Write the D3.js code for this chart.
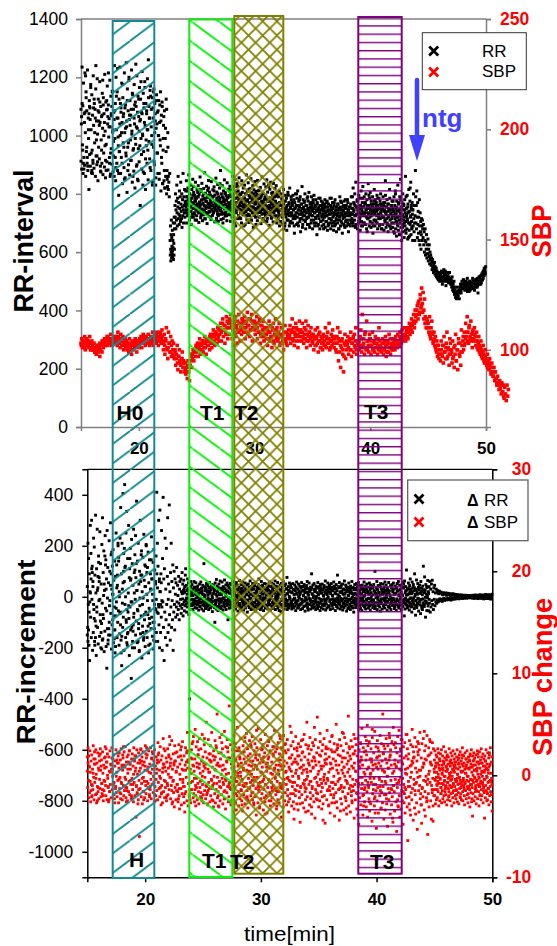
<!DOCTYPE html>
<html>
<head>
<meta charset="utf-8">
<script src="https://d3js.org/d3.v7.min.js"></script>
<style>
  html, body { margin: 0; padding: 0; background: #fff; }
  text { font-family: "Liberation Sans", Arial, sans-serif; }
</style>
</head>
<body>
<div id="chart"></div>
<script>
// values, each block is spread evenly over its time span [min]
const rrA = [912,1040,885,1235,968,1102,870,1180,925,1075,898,1215,1010,860,1150,945,1085,905,1225,880,1060,990,815,1120,935,1095,895,1175,1020,872,1140,950,1070,915,1205,1035,888,1110,975,1090,860,1160,930,1050,900,1195,1005,845,1125,960,1080,920,1185,1045,878,1100,985,1065,905,1145,1025,866,1130,940,1075,892,1210,1015,855,1115,970,1088,910,1170,1040,882,1105,995,1058,925,1190,1030,868,1135,955,1068,902,1152,1012,875];
const rrB = [930,1080,860,1240,990,1110,845,1200,1020,905,1150,880,1060,965,795,1125,945,1235,1000,870,1095,925,1180,1045,835,1130,975,1075,890,1215,1010,855,1105,940,1250,1030,805,1160,960,1085,900,1190,1055,865,1120,985,1070,915,1225,1015,840,1140,950,1090,878,1175,1040,820,1115,970,1100,895,1205,1025,850,1135,955,1065,910,1165,1050,760,1125,990,1080,885,1220,1005,830,1145,945,1095,870,1185,1035,815,1110,965,1075,905,1195,1020,848,1130,980,1060,920,1155];
const rrC = [1170,880,1090,1000,1130,840,1060,960,1160,900,1110,1050,830,1025,1140,940,1080,870,1000,1120,850,1045,985,1150,810,1070,905,1100,835,950,1035,845,1085,820,990,860,1125,800,880,825,960,815,840,790,870];
const rrD = [640,590,690,610,570,660,600,710,580,650,620,595,675,605,585,640,615,700,575,660,630,590,720,610,680];
const rrE = [700,760,720,800,680,745,775,710,830,735,690,785,755,860,715,770,730,695,810,750,725,790,705,840,765,740,715,800,685,755,780,725,870,745,700,790,760,735,815,720];
const rrF = [770,735,810,755,845,700,790,765,725,820,780,745,865,760,710,800,775,740,830,755,695,785,815,730,770,850,750,720,805,765,735,795,775,710,840,760,745,785,725,815,
  765,790,738,828,752,702,798,772,742,858,762,718,808,778,732,836,748,708,792,768,728,818,782,744,872,758,714,802,774,736,826,756,698,788,812,734,768,846,752,722,806,764,738,796,772,712,
  842,758,746,786,726,814,762,792,740,824,754,704,796,770,744,854,760,716,806,776,730,832,750,706,790,766,730,820,784,742,880,756,712,800,772,738,828,754,700,786,810,732,772,848,748,724,
  804,762,736,794,778,708,838,756,744,788,728,816,766,794,742,826,750,706,800,768];
const rrG = [775,730,815,750,860,705,795,760,720,825,785,740,850,765,690,805,770,745,835,755,715,790,810,725,780,855,748,718,800,768,735,798,772,700,845,758,742,782,728,820,
  762,788,735,830,750,695,800,775,740,865,760,712,810,780,728,838,746,702,794,770,725,818,786,744,852,756,710,804,776,738,828,752,685,790,814,730,772,842,750,720,808,766,734,798,778,708,
  846,754,748,784,722,812,768,796,736,822,758,698,792,774,746,858,764,714,802,770,732,834,744,706,788,762,726,824,782,740,848,758,716,806,774,734,830,750,692,786,816,728,776,840,752,716,
  802,764,738,792,780,704,836,756,742,790,724,818,770,792,744,828,748,700,798,766];
const rrH = [750,715,790,735,810,690,770,745,705,800,760,725,780,695,755,730,815,680,775,740,700,795,750,720,785,675,760,730,805,710,745,770,690,820,735,755,705,790,725,765,
  770,700,795,745,725,780,665,750,715,800,735,760,695,785,720,810,745,690,775,730,755,705,790,670,740,765,715,825,735,695,780,750,710,770,725,800,745,680,760,735,715,785,695,750,
  775,720,805,740,685,765,730,750,700,790,725,760,680,745,770,710,795,735,690,755,720,780,700,740,660,765,725,750,695,785,715,745,680,735,760,705,775,725,690,750,
  770,710,740,695,760,720,780,685,735,755,705,770,725,675,745,690,765,715,740,700,785,730,680,755,710,745,690,770,720,735,675,760,705,730,780,695,745,715,670,755,
  725,700,765,735,680,750,710,790,725,690,745,705,770,730,665,755,715,740,695,775,720,685,750,705,735,760,690,725,780,700,745,670,735,755,710,725,690,765,730,700];
const rrI = [750,705,790,730,820,690,770,745,710,800,760,725,840,695,755,730,780,680,775,740,700,795,750,715,785,675,760,730,810,705,745,770,690,825,735,755,700,790,725,765,
  770,695,800,745,720,780,670,750,715,835,735,760,690,785,720,805,745,685,775,730,755,700,790,665,740,765,710,815,735,690,780,750,705,770,725,795,745,680,760,730,715,785,690,750,
  775,715,800,740,680,765,725,750,695,790,720,760,675,745,770,705,845,735,685,755,715,780,695,740,670,765,720,750,690,785,710,745,680,730,760,700,775,725,685,750];
const rrJ = [740,700,790,725,665,760,715,810,680,750,730,655,775,705,740,695,830,720,675,765,710,745,660,790,725,700,850,685,755,715,640,770,730,695,800,670,745,710,760,650,
  720,780,690,735,860,705,665,750,725,680,795,710,645,765,735,700,815,675,740,655,775,695,720,840,660,750,705,685,770,730,640,745,690,800,715,670,760,700,640,725];
const rrK = [880,790,700,760,680,810,720,650,770,695,740,665,720,640,780,690,625,735,670,705,610,660,715,640,690];
const rrL = [710,680,650,695,625,670,600,640,680,590,635,610,660,580,625,595,645,570,610,585,625,560,600,575,590,555,580,565,540,575,550,565,530,555,540,565,525,550,535,520,545,515,535,525,510,530,505,525,515,510];
const rrM = [520,510,525,505,535,515,500,530,510,540,520,505,535,525,510,530,515,500,525,505,515,495,510,500,490,505,480,495,470,490,465,480,455,470,445,460,440,455,445,465,
  450,470,460,480,465,490,470,485,500,475,490,505,480,495,470,490,480,500,475,490,465,485,475,495,480,500,470,490,480,495,485,475,500,480,495,470,490,505,480,500,
  490,510,485,500,495,515,490,510,500,520,495,525,505,530,510,535,520,540,530,550];
// second pass of readings where the cloud is dense
const rrEarly2 = [1090,1065,1110,950,905,885,1045,1080,1205,1130,960,925,895,1020,1075,1100,1055,1165,940,880,870,905,1095,1125,1010,1060,1240,985,930,910,1085,1050,1035,1115,895,875,950,1070,1190,1105,
  1000,1045,965,915,880,1120,1090,1065,1215,1030,905,860,940,1075,1100,1150,1020,980,1055,1085,925,890,1135,1060,1230,995,870,945,1040,1110,1080,1010,905,1175,1065,960,850,1095,1025,930,
  1050,1120,880,975,1200,1070,1035,915,1090,1005,1145,860,955,1060,1105,990,1245,1030,900,1080,845,1125,1015,965,1055,1185,935,1075,1000,875,1110,1045,1165,920,985,1085,1020,950,1260,1100,
  1060,890,1135,1030,970,830,1095,1150,910,1010,1075,855,1120,1040,940,1085,1000,870,1105,965,1050,925,1115,835,990,1065,880,820,1025,945,1090,850,1010,860];
const rrBand2a = [760,775,745,790,810,735,725,770,800,755,780,740,720,765,795,825,750,730,785,775,745,710,760,805,790,735,770,755,815,725,745,780,765,735,800,760,715,785,750,775,
  730,795,765,820,740,755,780,720,770,745,790,760,735,810,775,750,705,765,785,740,800,725,755,775,835,745,770,730,790,760,715,780,750,800,735,765,725,785,755,745,
  770,810,730,760,790,740,720,775,755,800,765,700,745,785,735,770,825,750,725,795,760,780,715,745,770,805,735,755,690,785,765,740,800,725,775,750,730,815,760,790,
  745,710,770,735,780,755,800,725,765,745,695,790,775,735,810,755,720,760,785,740,770,730,800,750,715,780,765,735,795,745,705,775,755,825,730,760,785,740,770,720,
  750,805,765,735,790,745,775,725,760,800];
const rrBand2b = [755,740,725,770,760,705,745,785,720,735,765,750,690,775,730,755,710,740,795,765,725,700,750,780,735,760,715,745,690,770,725,755,800,735,700,760,745,780,715,730,
  765,750,685,725,755,740,775,705,735,760,720,790,745,695,730,755,770,710,740,725,780,750,700,735,760,715,745,770,690,725,755,735,785,705,745,760,720,730,680,750,
  765,725,705,740,775,755,695,730,745,715,760,785,735,700,750,725,770,690,740,755,710,730,765,745,680,720,755,775,735,700,745,725,760,690,730,780,750,710,735,770,
  745,695,725,755,735,790,715,750,700,740,765,725,685,755,730,775,745,705,735,760,720,750,690,740,785,725,755,700,770,735,745,680,760,715,730,795,750,705,740,765,
  725,755,690,745,775,730,710,760,740,700,785,750,725,695,765,735,755,680,745,720,770,740,710,795,730,755,700,765,725,745,815,690,735,760,715,750,775,670,740,730,
  800,705,755,720,690,770,745,660,735,780,710,750,685,725,765,700,745,675,790,730,715,755,650,740,700,820,725,760,680,745];
const rrLate2 = [500,530,515,490,510,525,500,485,520,505,495,530,510,490,515,480,500,470,455,480,450,465,440,470,460,490,475,505,485,470,495,510,480,465,500,485,475,510,495,470,
  490,505,480,460,500,515,490,520,505,535,545,525];
const rrBlocks = [[15,17.8,rrA],[17.8,21,rrB],[21,22.7,rrC],[22.7,23.1,rrD],[23.1,24,rrE],[24,28,rrF],[28,32,rrG],[32,38.4,rrH],[38.4,42,rrI],[42,43.9,rrJ],[43.9,44.5,rrK],[44.5,46,rrL],[46,50,rrM],
  [15,22.6,rrEarly2],[24,32,rrBand2a],[32,43.7,rrBand2b],[46,50,rrLate2]];

const sbpValues = [
  103,105,101,104,102,106,100,103,105,102,104,101,106,103,100,104,
  102,100,103,99,101,98,102,100,99,101,97,100,102,99,103,101,
  104,102,105,103,106,102,104,105,103,107,102,105,104,106,103,105,
  104,106,102,108,103,105,101,107,104,102,106,100,103,105,101,104,
  100,103,99,105,101,102,98,104,100,103,101,105,102,99,104,101,
  102,105,103,106,101,104,107,103,105,102,106,104,103,107,105,102,
  104,106,103,108,102,105,107,104,103,108,106,102,105,104,107,103,
  109,104,100,107,98,105,110,101,96,108,103,99,106,97,104,100,
  103,96,100,93,98,102,91,97,100,94,90,96,99,92,95,90,
  94,89,92,87,95,90,86,93,98,92,96,100,95,99,97,102,
  99,103,97,101,105,98,102,100,104,99,103,106,101,98,104,102,
  102,105,100,107,103,101,106,109,104,102,108,105,103,110,106,104,
  107,112,104,109,114,106,111,103,108,115,110,105,112,107,113,116,
  110,105,113,102,108,115,106,111,103,109,116,112,104,110,107,114,
  112,108,115,105,110,113,117,107,111,106,114,109,116,104,112,110,
  113,107,110,115,105,112,108,114,103,111,106,109,113,104,110,107,
  105,110,102,108,113,104,111,106,101,109,112,103,107,114,105,110,
  104,108,112,102,106,110,103,107,100,105,111,104,108,102,106,109,
  106,111,103,108,114,105,110,102,107,112,104,109,101,106,113,108,
  109,104,112,106,103,110,105,113,101,107,111,104,108,102,110,106,
  103,107,100,105,109,102,106,110,99,104,108,101,106,103,100,107,
  102,106,110,101,105,108,103,112,100,104,107,102,109,105,101,106,
  103,99,106,110,95,104,108,92,101,105,98,90,103,107,96,100,
  102,106,98,104,100,108,97,103,105,99,107,101,110,98,104,102,
  103,100,106,109,99,116,102,105,98,108,101,113,100,104,99,107,
  105,98,102,108,100,104,99,106,101,103,98,105,110,100,102,99,
  101,105,98,103,100,106,97,102,104,99,107,101,98,103,100,105,
  102,104,100,106,103,101,107,104,102,108,105,103,109,104,106,110,
  106,104,108,110,105,109,112,107,111,114,108,112,116,110,118,113,
  116,120,114,122,117,125,119,128,121,126,118,123,115,112,114,110,
  112,108,115,106,110,113,107,104,108,102,106,100,104,97,102,96,
  100,95,104,98,102,94,106,99,96,103,108,97,101,93,105,98,
  100,94,104,97,92,102,107,95,100,91,105,98,103,93,109,99,
  104,100,108,103,112,106,115,108,103,111,105,113,107,101,109,104,
  110,106,102,108,104,100,106,102,98,104,100,96,102,98,94,100,
  96,93,98,94,91,96,92,89,94,90,88,92,86,90,87,84,
  88,85,82,86,83,80,85,81,84,78,83,80,77,84,79,82];
// second pass, roughly ten readings a minute along the middle of the band
const sbpValues2 = [
  102,104,103,101,105,104,102,103,100,101,
  100,101,99,100,102,101,103,102,104,103,
  105,103,104,106,105,103,104,105,104,106,
  105,104,106,103,105,102,104,103,102,101,
  102,101,103,100,102,103,102,104,103,104,
  104,103,105,104,106,105,104,105,103,105,
  106,105,104,106,105,107,104,106,108,105,
  106,103,102,104,100,101,103,99,102,98,
  97,99,96,94,97,95,93,96,94,92,
  91,90,93,92,95,97,98,99,100,101,
  101,102,100,103,102,104,101,103,105,104,
  104,106,105,103,107,106,108,107,105,109,
  110,108,112,109,111,107,113,110,114,112,
  111,109,112,107,110,113,108,112,109,114,
  113,110,112,108,111,114,109,113,110,112,
  109,112,110,108,113,107,111,109,106,110,
  107,109,105,108,106,110,104,107,109,106,
  105,107,103,106,104,108,105,103,107,105,
  107,105,109,104,108,106,110,107,104,109,
  106,108,105,107,109,104,106,108,105,107,
  104,106,102,105,103,107,104,101,105,103,
  104,102,106,103,105,101,104,106,103,105,
  100,103,105,99,102,104,100,97,102,104,
  103,101,105,100,103,106,102,104,100,103,
  104,102,105,101,103,107,100,104,102,105,
  102,104,100,103,101,105,102,100,104,101,
  103,100,104,102,99,103,101,105,102,100,
  103,105,102,104,103,106,104,105,107,105,
  107,109,106,108,110,109,111,113,112,115,
  118,121,116,123,120,117,114,112,110,113,
  110,107,105,108,103,105,101,99,102,98,
  98,100,97,102,99,101,96,100,98,103,
  99,96,101,98,95,100,103,97,99,102,
  106,102,105,108,104,110,106,104,108,105,
  107,104,101,103,99,101,97,99,95,97,
  94,92,95,93,90,92,88,90,87,85,
  84,86,82,84,81,79];
const sbpStep1 = 1 / 16, sbpStep2 = 1 / 10;

const dRrEarly = [40,-120,210,-30,150,-190,90,-250,20,280,-80,170,-160,300,-10,120,-210,60,-140,230,-50,195,-175,85,-95,320,15,-230,110,-60,265,-120,35,-185,160,-15,75,-155,255,-70,
  130,-200,50,-105,205,-25,310,-165,95,-85,180,-215,25,-135,240,-45,145,-195,70,-280,260,-5,115,-170,55,-125,220,-35,100,-150,290,-65,165,-205,30,-110,10,-90,185,-180,
  65,-130,-40,140,-220,80,-75,250,-20,125,-160,45,-100,200,-55,155,-190,0,-145,230,
  -60,350,-170,90,-270,210,30,-120,405,-80,170,-210,60,440,-30,120,-160,250,-100,335,-50,-190,150,-140,15,280,-85,-230,110,-40,190,-130,70,-320,225,-20,130,-175,45,-110,
  265,-65,95,-200,165,-10,-150,75,-95,375,25,-180,140,-55,210,-125,50,-215,100,-35,300,-145,85,-75,180,-240,20,-115,155,-5,-170,245,65,-90,125,-195,40,-60,205,-135,
  10,-160,115,-70,175,-220,55,-45,145,-105,-185,90,30,-125,235,-80,70,-155,-15,135,-205,185,-100,-30,105,-175,60,-50,160,-140];
const dRrMid = [410,-60,210,-175,120,-30,300,-110,60,-200,340,20,-140,90,-80,260,-40,-210,150,-20,390,-120,70,-250,110,-60,230,-160,30,-90,190,-30,-190,80,310,-140,-10,50,-110,360,
  -70,20,-170,95,-40,210,-120,60,-15,-90,125,-210,35,-60,100,-30,-130,70,10,-80,55,-40,115,-20,-70,45,5,-50,80,-25,-90,30,60,-35,-10,70,-65,20,-45,95,
  -30,50,-75,15,65,-20,-55,40,-35,85,110,-15,45,-60,25,-40,70,-25,-5,55,-70,30,-400,10,-50,60,-30,40];
const dRrBand = [20,-35,48,-10,5,-50,30,-22,60,-15,38,-42,12,-28,55,-5,25,-45,35,-18,42,-30,8,-52,28,-12,50,-38,15,-25,58,-8,32,-48,22,-20,45,-33,10,-55,
  130,-20,40,-36,6,-46,34,-14,52,-26,18,-40,44,-6,24,-50,36,-16,56,-32,14,-44,28,-10,48,-24,4,-58,38,-18,46,-34,16,-42,26,-100,54,-28,10,-48,
  68,-12,42,-38,20,-54,30,-8,50,-30,12,-44,62,-22,34,-46,8,-16,58,-36,24,-52,40,-4,18,-28,66,-40,32,-14,46,-50,2,-26,54,-34,22,-90,44,-10,
  35,-45,15,-20,52,-32,26,-6,48,-42,10,-24,60,-38,30,-54,18,-12,40,-30,50,-48,6,-22,56,-36,28,-16,44,-56,14,-8,38,-34,64,-26,20,-46,32,-4,
  48,-40,12,-18,58,-30,24,-52,42,-10,16,-36,54,-44,34,-20,8,-28,46,-60,26,-14,50,-32,18,-42,36,-6,62,-24,10,-50,40,-16,28,-38,52,-34,4,-48,
  30,-22,44,-40,14,-56,56,-12,22,-30,38,-46,6,-18,48,-36,70,-26,32,-8,16,-50,42,-28,60,-42,24,-14,46,-34,10,-54,36,-20,52,-4,18,-44,28,-32,
  50,-10,-38,34,12,-48,44,-24,26,-16,58,-30,8,-52,40,-6,20,-36,54,-46,30,-22,14,-40,48,-12,36,-28,62,-50,2,-18,42,-34,24,-8,56,-44,16,-26,
  38,-54,10,-20,46,-32,28,-58,52,-14,18,-42,34,-4,60,-30,22,-48,44,-10,6,-36,50,-24,32,-16,76,-50,12,-38,40,-28,26,-44,54,-8,20,-34,48,-18,
  -22,35,-48,16,-30,52,-12,28,-42,8,-6,46,-36,24,-54,38,-18,58,-28,10,-44,30,-14,50,-40,20,-4,42,-32,14,-50,34,-26,56,-10,22,-46,40,-20,6,
  -38,48,-16,26,-56,36,-8,18,-34,44,-24,60,-42,12,-52,32,-6,54,-30,20,-14,38,-48,28,-22,90,-36,10,-44,46,-18,4,-28,52,-40,30,-12,24,-50,42,
  -4,34,-32,16,-46,56,-20,8,-38,40,-26,22,-54,48,-10,36,-42,14,-16,50,-30,28,-48,6,-8,44,-34,18,-24,62,-52,26,-14,38,-44,10,-6,54,-36,32,
  20,-40,46,-18,30,-50,12,-28,52,-10,38,-34,4,-46,24,-22,58,-14,42,-30,16,-54,34,-8,48,-38,26,-20,85,-44,8,-26,40,-12,56,-32,18,-48,36,-6,
  44,-16,22,-36,50,-52,10,-24,30,-42,62,-4,14,-34,46,-28,38,-56,20,-18,28,-46,6,-10,54,-40,32,-30,16,-50,42,-8,24,-22,60,-38,12,-44,36,-14,
  -60,34,-20,48,-6,14,-42,28,-30,52,-12,40,-36,8,-24,56,-50,18,-16,44,-4,26,-46,36,-28,10,-54,46,-10,32,-34,22,-18,58,-40,6,-26,42,-48,16,
  30,-14,50,-32,20,-8,38,-44,12,-22,54,-36,26,-52,46,-6,16,-30,40,-12,34,-42,8,-18,48,-28,24,-46,100,-38,14,-4,36,-24,60,-50,28,-10,44,-34,
  18,-20,42,-40,6,-56,52,-16,32,-26,22,-48,10,-8,50,-36,30,-14,38,-44,58,-22,12,-30,46,-4,26,-52,34,-18,16,-38,56,-10,24,-42,8,-28,44,-50,
  -18,36,-6,48,-34,20,-26,54,-12,30,-46,10,-40,42,-20,14,-54,38,-8,52,-30,24,-16,60,-44,4,-36,46,-24,28,-10,18,-50,40,-32,8,-14,56,-38,34,
  50,-22,-75,62,-48,16,-6,40,-30,105,-18,26,-44,8,-12,54,-36,32,-52,44,-8,70,-28,20,-40,12,-60,58,-16,36,-24,48,-4,24,-46,90,-34,10,-72,30,
  -14,66,-42,18,-26,52,-6,38,-56,28,-20,46,-32,14,-66,60,-10,34,-44,22,-50,42,-8,120,-30,16,-38,78,-16,26,-80,48,-24,10,-54,36,-4,64,-36,20];
const dRrFade = [-55,40,-25,60,-60,30,-40,50,-15,65,-30,20,-50,35,-10,45,-35,15,-20,30,-25,18,-12,24,-20,12,-16,22,-8,15,-14,18,-10,12,-18,8,-12,16,-6,10,
  -14,12,-8,15,-10,6,-12,14,-5,9,-11,13,-7,10,-9,4,-13,11,-6,8,-10,12,-4,7,-9,10,-6,5,-8,9,-3,6,-7,8,-5,4,-8,7,-3,6,
  -6,5,-4,7,-5,3,-6,6,-2,5,-5,4,-3,6,-4,2,-5,5,-1,4,-4,3,-2,5,-3,1,-4,4,-2,3,-5,6,-3,5,-6,4,-2,7,-5,3,
  -4,6,-3,5,-7,4,-2,6,-5,8,-3,4,-6,5,-1,7,-4,3,-8,6,-2,5,-7,9,-3,4,-5,7,-6,2,-4,8,-7,5,-3,6,-9,4,-2,10];
// second pass of readings for the early cloud and the solid core of the band
const dRrEarly2 = [-150,-175,-130,-60,-20,15,70,110,95,40,-30,-85,-190,-160,-115,-40,25,80,135,60,-10,-95,-140,-205,-170,-70,5,50,160,125,30,-55,-125,-185,-150,-100,-15,45,90,175,
  120,10,-75,-165,-130,-195,-45,35,85,210,140,20,-65,-110,-220,-155,-25,55,100,190,115,0,-90,-180,-145,-60,-35,75,150,65,-20,-120,-200,-135,-80,15,105,240,130,25,
  -50,-175,-105,-210,-5,60,165,85,-30,-140,-160,-70,40,120,200,95,-15,-115,-190,-85,-55,30,145,70,10,-100,-170,-125,-45,50,-10,90,35,-65,-40,70,20,-30,55,-15];
const dRrCore = [12,-8,25,30,18,-15,-28,-5,10,32,22,-20,-35,-12,4,28,15,-25,-30,-10,20,35,8,-18,-32,-2,14,26,-22,-38,-6,18,34,10,-16,-28,0,24,30,-12,
  -26,-34,6,16,38,20,-10,-24,-36,-4,12,30,26,-14,-30,-20,2,22,36,8,-18,-40,-8,15,28,32,-6,-22,-33,-12,10,24,18,-16,-28,-4,35,14,-10,-36,
  -24,5,20,40,16,-14,-32,-18,-2,26,30,6,-26,-38,-10,12,22,34,-8,-20,-30,0,18,28,10,-12,-34,-24,4,38,24,-6,-16,-28,8,32,14,-22,-36,-2,
  16,26,36,-10,-18,-30,2,20,-26,12,-4,34,28,-14,-38,-8,6,24,30,-20,-32,-12,10,18,40,4,-24,-16,-34,22,14,-6,-28,32,8,-2,-20,-36,26,16,
  -10,-30,38,6,20,-18,-26,-8,30,12,-14,-34,24,2,-4,36,18,-22,-38,-12,28,10,-6,-24,34,14,-16,-32,0,22,8,-28,40,-10,-20,26,4,-36,16,-2,
  32,-12,-26,18,6,-30,24,-8,-18,36,12,-34,-4,28,20,-14,-22,2,38,-38,10,-6,30,-24,16,-16,26,-32,4,34,-10,-20,14,-28,8,22,-2,-36,40,-12,
  18,-26,28,6,-8,-30,32,-18,12,-34,24,-4,-14,36,2,-22,20,-38,16,-10,30,-28,10,-16,26,-6,-32,38,-20,4,22,-12,34,-36,14,-2,-24,8,28,-30,
  -18,32,6,-8,24,-26,16,-34,12,-14,36,-4,-22,20,2,-38,30,-10,26,-28,18,-6,10,-32,34,-16,4,-20,38,-12,22,-36,14,-24,8,28,-2,-30,16,-18,
  40,-8,-26,12,30,-34,20,-4,-14,24,6,-22,32,-38,18,-10,2,-28,36,-16,26,-6,10,-32,14,-20,34,-12,22,-36,8,-24,28,-2,16,-30,4,-18,38,-10,
  -26,24,6,-34,32,-14,12,-22,20,-4,30,-38,18,-8,-28,36,2,-16,26,-32,10,-6,34,-20,14,-12,22,-36,8,-24,28,-30,16,-2,-18,40,4,-26,12,-10];
const dRrBlocks = [[15,21,dRrEarly],[21,24,dRrMid],[24,44.5,dRrBand],[44.5,50,dRrFade],[15,21.5,dRrEarly2],[23.2,44.6,dRrCore]];

// beat to beat SBP change, in tenths of a mmHg
const dSbpEarly = [18,-12,27,-5,-22,9,-17,24,3,-26,14,-9,20,-20,6,-14,29,-2,-24,11,-7,16,-19,25,1,-27,12,-11,22,-16,7,-23,19,-4,-13,26,5,-21,15,-8,
  -18,23,2,-25,10,-15,17,-6,28,-10,-20,8,13,-24,21,-3,-12,-26,18,4,-16,24,-9,11,-22,6,27,-14,-1,16,-19,20,-7,-23,9,14,-11,25,-17,3,
  -21,12,-5,19,-27,7,22,-13,-2,15,-18,26,-8,10,-24,5,17,-10,-20,23,-15,8,28,-4,-22,13,-12,18,-25,2,20,-16,-6,24,-19,11,6,-9,-23,16,
  -3,21,-14,9,-26,27,-7,14,-20,4,19,-41,-11,25,-17,1,12,-24,22,-5,-60,15,-13,7,26,-21,-8,18,-28,10,23,-2,-16,13,-22,5,29,-10,-18,17,
  -6,20,-25,8,-12,24,3,-19,11,-14,27,-4,-23,16,-9,6,21,-17,-1,14,-26,25,-11,9,-20,18,2,-15,12,-24,32,-7,22,-13,5,-21,28,-3,15,-18,
  -10,19,-27,7,36,-16,11,-5,-22,24,-12,4,17,-25,13,-8,26,-19,1,20,-14,38,-2,9,-23,16,-10,34,-28,6,-6,21,-17,12,-31,29,-12,14,-24,3,
  -15,23,-9,8,-26,18,30,-20,-33,11,-4,25,-13,-29,15,-18,33,-7,5,-21,19,-11,-36,10,27,-16,-2,22,-25,42,7,-30,13,-8,-19,24,-14,6,-27,17];
const dSbpMid = [25,-14,31,-6,10,-22,38,-18,4,-26,16,45,-10,-20,28,-3,12,-24,33,-8,20,-16,-28,7,36,-12,2,-21,26,-5,14,-25,40,-9,18,-19,-27,9,30,-15,
  -2,23,-23,11,52,-11,17,-17,-29,6,35,-7,21,-13,3,-26,29,-20,13,-4,42,-24,8,-10,19,-31,24,-1,15,-18,34,-27,5,-14,27,-8,60,-22,12,-16,
  -30,22,9,-6,37,-25,16,-12,1,-19,32,-3,26,-28,10,-9,19,-23,43,-15,6,-33,28,-5,14,-17,35,-11,23,-26,2,-21,68,-7,17,-13,30,-29,11,-2,
  -24,25,-10,8,-36,20,39,-18,4,-12,31,-27,15,-6,24,-20,47,-1,9,-16,-30,27,-9,18,-23,3,36,-14,12,-25,22,-4,-35,29,7,-19,16,-11,33,-28,
  -8,13,-22,41,5,-15,26,-32,19,-3,10,-26,34,-12,21,-7,-20,28,1,-17,38,-24,14,-10,6,-29,24,-5,31,-21,17,-13,-39,9,27,-2,15,-27,46,-8,
  -16,20,-31,12,-11,35,-23,3,25,-18,8,-6,30,-34,18,-14,-1,22,-26,40,-9,11,-20,4,-37,29,-12,16,-4,33,-25,7,-17,24,-30,2,37,-7,13,-22,
  -15,28,-10,19,-28,5,44,-13,-3,23,-19,10,-33,26,-6,15,-24,32,-16,1,-27,21,-8,36,-12,9,-41,27,-21,6,18,-11,-31,39,-4,14,-25,30,-17,3,
  22,-9,-29,12,35,-14,-2,25,-36,8,17,-23,48,-6,-18,29,4,-30,20,-11,-1,33,-26,13,-43,26,-7,16,-20,38,-15,5,-28,24,-10,11,-34,31,-3,19,
  -22,7,-46,28,-12,15,34,-19,2,-27,23,-8,10,-32,40,-5,18,-16,-24,30,-13,6,52,-21,-1,26,-35,12,-9,21,-29,37,-17,4,-6,25,-38,14,-11,32,
  -20,8,29,-26,17,-3,-42,35,-14,10,-23,22,-7,57,-18,1,27,-31,13,-10,-25,41,-4,19,-16,6,-33,24,-12,30,-28,9,-2,36,-20,15,-47,21,-8,28,
  11,-24,44,-15,-5,26,-30,3,18,-11,33,-37,12,-19,25,-7,-27,39,7,-13,16,-22,-1,31,-40,23,-9,14,-17,50,-26,5,-32,27,-6,20,-14,10,-44,35,
  -3,19,-23,29,-10,-28,13,42,-16,2,24,-34,8,-12,37,-21,17,-5,-25,31,-38,11,-8,22,-18,58,-30,6,-13,26,-1,-36,16,34,-20,9,-27,28,-4,21,
  -15,40,-42,12,-9,24,-24,4,30,-17,-33,19,-6,36,-11,14,-48,25,-22,7,-2,32,-29,18,-13,46,-8,10,-39,27,-19,3,23,-26,-12,38,-5,15,-31,20,
  -16,49,-41,29,-10,8,-23,33,-35,16,1,-28,26,-7,13,-45,37,-18,5,-14,22,-3,-30,43,-21,11,-9,28,-52,17,-25,34,-12,6,-37,24,-2,19,-20,39,
  -15,9,-32,31,-6,14,-27,60,-11,21,-43,4,-19,26,-34,16,-8,36,-23,12,-1,-50,29,-13,7,-24,41,-17,18,-38,25,-5,10,-29,33,-21,2,-46,47,-10,
  30,-16,-35,15,-4,27,-26,8,-55,22,-12,38,-30,13,-7,44,-20,-41,19,-2,24,-33,5,-15,35,-25,11,-48,28,-9,17,-18,32,-37,6,-14,40,-22,1,-31,
  26,-64,16,-6,21,-28,34,-11,9,-39,30,-17,3,-24,45,-13,12,-44,23,-4,18,-32,37,-19,7,-8,28,-27,14,-53,33,-2,20,-15,-36,25,-10,42,-23,5,
  -29,17,-47,31,-12,8,-21,36,-5,11,-34,24,-16,-40,29,-1,15,-26,39,-9,-58,19,-18,27,-31,4,35,-7,13,-25,22,-43,10,-14,32,-3,-30,26,-20,6];
const dSbpLate = [15,-20,24,-5,-28,9,-14,20,-24,3,18,-10,-22,12,26,-16,-2,22,-30,7,-8,16,-25,14,-4,21,-18,6,-12,25,-27,10,1,-15,19,-23,5,-9,28,-20,
  13,-6,-26,17,-1,-13,23,-19,8,-11,15,-29,4,20,-7,-24,11,-3,18,-21,-16,26,2,-10,14,-25,9,-5,22,-18,-12,12,-30,19,-1,6,-22,24,-8,-15,
  10,-27,16,3,-11,21,-20,-4,13,-23,7,-14,18,-6,25,-26,1,-9,15,-17,11,-28,-2,20,-13,8,-21,23,-5,-18,4,14,-24,-10,17,-7,27,-16,-25,9,
  -3,19,-12,12,-20,-29,6,22,-8,-15,16,2,-23,10,-5,24,-19,-11,13,-27,-1,18,-6,7,-22,15,-14,-31,21,-9,-4,11,-17,25,-26,3,-12,8,-40,19,
  -18,14,-7,22,-25,5,-2,17,-13,-21,10,-10,20,-28,6,-15,13,-5,24,-23,1,-9,18,-16,11,-30,-3,23,-11,7,-19,15,-6,-24,26,-14,4,-20,12,-1,
  -8,21,-27,9,-12,16,-17,3,-42,19,-4,-22,14,-10,25,-15,7,-25,11,-2,-18,22,-7,5,-13,17,-29,-6,20,-20,10,-11,27,-16,2,-26,13,-3,18,-35];
// second pass of readings, runs instead of strict high-low swings
const dSbp2 = [4,12,19,8,-6,-15,-21,-10,2,16,23,11,-3,-18,-25,-12,5,14,21,9,-8,-14,-20,-5,7,18,26,13,0,-11,-24,-16,3,10,17,6,-9,-19,-27,-13,
  -1,15,22,12,-4,-17,-23,-7,8,20,28,10,-2,-12,-26,-15,6,13,24,11,-5,-20,-22,-9,1,16,19,7,-10,-18,-28,-14,4,12,25,14,-3,-16,-24,-6,
  9,21,27,5,-8,-13,-21,-11,2,17,23,10,-7,-19,-25,-4,6,15,20,13,-1,-12,-29,-17,3,11,26,8,-6,-22,-20,-10,7,18,30,12,-2,-15,-26,-5,
  10,14,22,4,-9,-16,-23,-13,1,19,28,6,-4,-11,-27,-18,5,13,24,15,-8,-21,-24,-7,2,16,33,9,-3,-14,-30,-12,8,20,25,11,-6,-17,-22,-1,
  4,12,36,7,-10,-19,-28,-15,3,15,21,14,-5,-13,-25,-8,6,18,29,10,-2,-20,-31,-11,9,22,40,5,-7,-16,-23,-4,1,13,27,17,-9,-12,-26,-14,
  7,19,32,8,-3,-18,-34,-6,2,11,24,16,-1,-15,-29,-10,5,23,37,12,-8,-21,-24,-13,4,14,30,9,-5,-17,-27,-2,10,20,44,6,-11,-14,-32,-7,
  3,16,26,13,-4,-22,-38,-9,8,12,34,18,-6,-19,-25,-12,1,21,28,7,-2,-15,-30,-16,5,10,39,15,-10,-13,-41,-8,9,24,31,4,-3,-20,-26,-5,
  6,17,42,11,-7,-18,-33,-14,2,13,27,19,-1,-16,-28,-11,8,22,35,5,-9,-12,-36,-4,3,15,29,10,-6,-23,-31,-13,7,18,47,14,-2,-17,-24,-10,
  4,20,33,9,-8,-21,-44,-5,1,12,26,16,-3,-14,-29,-15,6,11,38,23,-7,-19,-27,-9,10,25,30,2,-4,-13,-35,-12,5,17,41,8,-1,-22,-32,-6,
  3,14,28,19,-10,-16,-25,-11,7,21,36,4,-5,-18,-39,-8,9,13,31,15,-2,-20,-30,-14,1,24,34,6,-7,-12,-26,-3,2,16,45,10,-9,-23,-37,-15,
  8,18,27,12,-4,-11,-33,-17,5,22,29,3,-6,-19,-28,-1,7,15,37,20,-13,-14,-42,-10,4,11,32,9,-8,-24,-31,-5,6,26,35,13,-3,-16,-27,-12,
  2,19,40,7,-11,-21,-34,-2,10,14,28,17,-9,-15,-38,-7,3,23,31,5,-1,-18,-29,-13,8,12,43,16,-6,-22,-25,-4,1,20,33,11,-10,-17,-45,-14];
const dSbpLate2 = [3,-4,8,12,-2,-9,-14,-6,1,10,16,5,-3,-12,-18,-8,2,7,14,11,-1,-5,-16,-10,4,9,18,6,-7,-13,-20,-2,0,12,15,3,-4,-11,-17,-9,
  5,8,13,10,-6,-15,-19,-3,1,6,17,12,-2,-8,-22,-12,3,11,20,4,-5,-10,-14,-7,2,9,16,7,-1,-13,-18,-11,6,14,19,8,-4,-9,-23,-5,0,10,
  15,5,-3,-16,-12,-6,4,7,21,13,-2,-11,-20,-8,1,12,18,3,-7,-10,-15,-4,5,9,14,6,-1,-17,-24,-13,2,8,22,11,-5,-6,-19,-9];
const dSbpBlocks = [[15,24,dSbpEarly],[24,45,dSbpMid],[45,50,dSbpLate],[15,45,dSbp2],[45,50,dSbpLate2]];

const topLeftTicks = [0,200,400,600,800,1000,1200,1400];
const topRightTicks = [100,150,200,250];
const botLeftTicks = [-1000,-800,-600,-400,-200,0,200,400];
const botRightTicks = [-10,0,10,20,30];
const timeTicks = [20,30,40,50];

// labels of the time windows, upper and lower panel
const windowNames = ["H0","T1","T2","T3"];
const windowNamesLower = ["H","T1","T2","T3"];

const width = 557, height = 946;
const svg = d3.select("#chart").append("svg").attr("width", width).attr("height", height);
const defs = svg.append("defs");

const xTop = d3.scaleLinear().domain([15,50]).range([81,486]);
const xBot = d3.scaleLinear().domain([15,50]).range([87.3,492.3]);
const yRR = d3.scaleLinear().domain([0,1400]).range([427,19]);
const ySBP = d3.scaleLinear().domain([65,250]).range([427,19]);
const yDRR = d3.scaleLinear().domain([-1100,500]).range([877.3,469.3]);
const yDSBP = d3.scaleLinear().domain([-10,30]).range([877.3,469.3]);

// spread a block list into [time, value] pairs
function toPoints(blocks) {
  let pts = [];
  blocks.forEach(b => {
    const t = d3.scaleLinear().domain([0, b[2].length]).range([b[0], b[1]]);
    b[2].forEach((v, i) => pts.push([t(i), v]));
  });
  return pts;
}

function drawPoints(pts, x, y, color, size) {
  svg.append("g").selectAll("rect").data(pts).join("rect")
    .attr("x", d => x(d[0]) - size / 2)
    .attr("y", d => y(d[1]) - size / 2)
    .attr("width", size).attr("height", size)
    .attr("fill", color);
}

function drawAxis(axis, transform, color, labelSize, labelColor, bold) {
  const g = svg.append("g").attr("transform", transform).call(axis.tickFormat(String));
  g.selectAll("path,line").attr("stroke", color).attr("stroke-width", 1.5);
  g.selectAll("text").attr("font-size", labelSize).attr("fill", labelColor)
    .attr("font-family", "Liberation Sans").attr("font-weight", bold ? "bold" : "normal");
  return g;
}

// top panel frame
const grey = "#7f7f7f";
drawAxis(d3.axisLeft(yRR).tickValues(topLeftTicks).tickSizeOuter(0).tickSize(5).tickPadding(8), "translate(81,0)", grey, 17.5, "#000", false);
drawAxis(d3.axisRight(ySBP).tickValues(topRightTicks).tickSizeOuter(0).tickSize(5).tickPadding(9), "translate(486,0)", grey, 17.5, "#f00", true);
drawAxis(d3.axisBottom(xTop).tickValues(timeTicks).tickSizeOuter(0).tickSize(4).tickPadding(11), "translate(0,427)", grey, 17, "#000", true);
svg.append("line").attr("x1",81).attr("x2",486).attr("y1",19).attr("y2",19).attr("stroke",grey).attr("stroke-width",1.5);

// bottom panel frame
drawAxis(d3.axisLeft(yDRR).tickValues(botLeftTicks).tickSizeOuter(0).tickSize(5).tickPadding(9), "translate(87.3,0)", "#000", 17.5, "#000", false);
const botRight = drawAxis(d3.axisRight(yDSBP).tickValues(botRightTicks).tickSizeOuter(0).tickSize(5).tickPadding(13), "translate(492.3,0)", "#000", 17.5, "#f00", true);
botRight.selectAll("text").attr("text-anchor", "end").attr("x", 39);
drawAxis(d3.axisBottom(xBot).tickValues(timeTicks).tickSizeOuter(0).tickSize(5).tickPadding(11), "translate(0,877.3)", "#000", 17, "#000", true);
svg.append("line").attr("x1",87.3).attr("x2",492.3).attr("y1",469.3).attr("y2",469.3).attr("stroke","#000").attr("stroke-width",1.2);

// scatter clouds
drawPoints(toPoints(rrBlocks), xTop, yRR, "#000", 3);
drawPoints(sbpValues.map((v, i) => [15 + i * sbpStep1, v]).concat(sbpValues2.map((v, i) => [15.03 + i * sbpStep2, v])), xTop, ySBP, "#f00", 3.6);
drawPoints(toPoints(dRrBlocks), xBot, yDRR, "#000", 2.9);
drawPoints(toPoints(dSbpBlocks).map(d => [d[0], d[1] / 10]), xBot, yDSBP, "#f00", 2.8);

// hatch patterns
function hatch(id, w, h, d, color, sw, y0) {
  const p = defs.append("pattern").attr("id", id).attr("patternUnits", "userSpaceOnUse")
    .attr("width", w).attr("height", h)
    .attr("patternTransform", `translate(0,${y0})`);
  p.append("path").attr("d", d).attr("fill", "none").attr("stroke", color).attr("stroke-width", sw);
}
const rise = (w, h) => `M${-w},${h}L0,0M0,${h}L${w},0M${w},${h}L${2 * w},0`;
const fall = (w, h) => `M${-w},0L0,${h}M0,0L${w},${h}M${w},0L${2 * w},${h}`;
const teal = "#148a90", lime = "#08f008", olive = "#808000", purple = "#800080";
hatch("hatchH", 26, 19.5, rise(26, 19.5), teal, 1.9, 2);
hatch("hatchT1", 27.5, 20.3, fall(27.5, 20.3), lime, 1.9, 2);
hatch("hatchT2", 14.2, 14.2, rise(14.2, 14.2) + fall(14.2, 14.2), olive, 1.8, 0);
hatch("hatchT3", 10, 8.25, "M0,0.7H10", purple, 1.4, 17);

const windows = [
  {x: 112.7, x2: 154.3, y: 21, y2: 878, fill: "hatchH", stroke: teal},
  {x: 189.3, x2: 232.3, y: 19.5, y2: 877, fill: "hatchT1", stroke: lime},
  {x: 234.3, x2: 283.3, y: 16, y2: 873.7, fill: "hatchT2", stroke: olive},
  {x: 358.3, x2: 401.7, y: 17, y2: 873.7, fill: "hatchT3", stroke: purple}
];
svg.append("g").selectAll("rect").data(windows).join("rect")
  .attr("x", d => d.x).attr("y", d => d.y)
  .attr("width", d => d.x2 - d.x).attr("height", d => d.y2 - d.y)
  .attr("fill", d => `url(#${d.fill})`)
  .attr("stroke", d => d.stroke).attr("stroke-width", 2);

// window labels
function label(txt, x, y, size, color, weight, anchor) {
  return svg.append("text").attr("x", x).attr("y", y).text(txt)
    .attr("font-size", size).attr("fill", color || "#000")
    .attr("font-weight", weight || "normal").attr("text-anchor", anchor || "start");
}
label(windowNames[0], 116.5, 420, 21, "#000", "bold");
label(windowNames[1], 200, 420, 21, "#000", "bold");
label(windowNames[2], 234, 420, 21, "#000", "bold");
label(windowNames[3], 364, 419, 21, "#000", "bold");
label(windowNamesLower[0], 129, 867, 21, "#000", "bold");
label(windowNamesLower[1], 202, 868, 21, "#000", "bold");
label(windowNamesLower[2], 230, 869, 21, "#000", "bold");
label(windowNamesLower[3], 370, 869, 21, "#000", "bold");

// axis titles
function vTitle(txt, cx, cy, len, size, color) {
  svg.append("text").attr("transform", `translate(${cx},${cy}) rotate(-90)`)
    .attr("text-anchor", "middle").attr("font-size", size).attr("font-weight", "bold").attr("fill", color)
    .attr("textLength", len).attr("lengthAdjust", "spacingAndGlyphs").text(txt);
}
vTitle("RR-interval", 33, 241, 143, 27, "#000");
vTitle("SBP", 551, 231, 53, 27, "#f00");
vTitle("RR-increment", 35, 652, 185, 25, "#000");
vTitle("SBP change", 552, 677, 158, 27, "#f00");
svg.append("text").attr("x", 244).attr("y", 941).attr("font-size", 21).attr("fill", "#000")
  .attr("textLength", 91).attr("lengthAdjust", "spacingAndGlyphs").text("time[min]");

// ntg arrow
const blue = "#4040ff";
svg.append("path").attr("d", "M417,80V140").attr("stroke", blue).attr("stroke-width", 4.5).attr("stroke-linecap", "round").attr("fill", "none");
svg.append("path").attr("d", "M409,135L425,135L417,161Z").attr("fill", blue);
label("ntg", 422, 127, 26, blue, "bold");

// legends
function xMark(cx, cy, color) {
  svg.append("path").attr("transform", `translate(${cx},${cy})`)
    .attr("d", "M-4.5,-4.5L4.5,4.5M-4.5,4.5L4.5,-4.5")
    .attr("stroke", color).attr("stroke-width", 2.8).attr("fill", "none");
}
svg.append("rect").attr("x", 422.3).attr("y", 32.7).attr("width", 104).attr("height", 57)
  .attr("fill", "#fff").attr("stroke", "#333").attr("stroke-width", 1);
xMark(433.7, 51, "#000");
xMark(433.7, 72, "#f00");
label("RR", 482, 57, 17);
label("SBP", 482, 77, 17);
svg.append("rect").attr("x", 407.7).attr("y", 480).attr("width", 120.3).attr("height", 60.7)
  .attr("fill", "#fff").attr("stroke", "#555").attr("stroke-width", 1.2);
xMark(419, 499, "#000");
xMark(419, 522, "#f00");
label("Δ", 467, 506, 16, "#000", "bold");
label("RR", 484, 506, 17);
label("Δ", 467, 528, 16, "#000", "bold");
label("SBP", 484, 528, 17);
</script>
</body>
</html>
